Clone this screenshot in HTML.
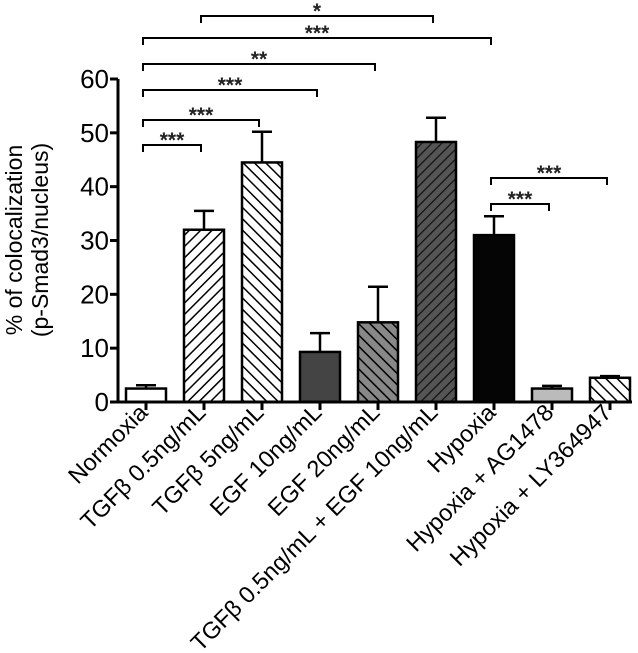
<!DOCTYPE html>
<html><head><meta charset="utf-8"><style>
html,body{margin:0;padding:0;background:#fff;}
svg{display:block;font-family:"Liberation Sans",sans-serif;}
</style></head><body>
<svg id="chart" width="638" height="653">
<defs>
<pattern id="hatchR" patternUnits="userSpaceOnUse" width="8" height="8" patternTransform="rotate(45)"><rect width="8" height="8" fill="#fff"/><line x1="0" y1="0" x2="0" y2="8" stroke="#000" stroke-width="3"/></pattern>
<pattern id="hatchL" patternUnits="userSpaceOnUse" width="8" height="8" patternTransform="rotate(-45)"><rect width="8" height="8" fill="#fff"/><line x1="0" y1="0" x2="0" y2="8" stroke="#000" stroke-width="3"/></pattern>
<pattern id="hatchGrey" patternUnits="userSpaceOnUse" width="8" height="8" patternTransform="rotate(-45)"><rect width="8" height="8" fill="#888"/><line x1="0" y1="0" x2="0" y2="8" stroke="#000" stroke-width="3"/></pattern>
<pattern id="hatchDark" patternUnits="userSpaceOnUse" width="7" height="7" patternTransform="rotate(45)"><rect width="7" height="7" fill="#555"/><line x1="0" y1="0" x2="0" y2="7" stroke="#111" stroke-width="2.5"/></pattern>
</defs>
<g id="plot"></g>
<text transform="translate(22,240) rotate(-90)" text-anchor="middle" font-size="23">% of colocalization</text>
<text transform="translate(48,240) rotate(-90)" text-anchor="middle" font-size="23">(p-Smad3/nucleus)</text>
</svg>
<script>
const categories = ["Normoxia","TGFβ 0.5ng/mL","TGFβ 5ng/mL","EGF 10ng/mL","EGF 20ng/mL","TGFβ 0.5ng/mL + EGF 10ng/mL","Hypoxia","Hypoxia + AG1478","Hypoxia + LY364947"];
const means = [2.5, 32, 44.5, 9.3, 14.8, 48.3, 31, 2.5, 4.5];
const errors = [0.6, 3.5, 5.7, 3.5, 6.6, 4.5, 3.5, 0.5, 0.3];
const yTicks = [0, 10, 20, 30, 40, 50, 60];
const fills = ["#fff","url(#hatchR)","url(#hatchL)","#444","url(#hatchGrey)","url(#hatchDark)","#050505","#bbb","url(#hatchL)"];
// brackets: [fromIndex, toIndex, label, yLevel]
const brackets = [[1,5,"*",16],[0,6,"***",38],[0,4,"**",64],[0,3,"***",90],[0,2,"***",120],[0,1,"***",145],[6,8,"***",178],[6,7,"***",204]];

const NS="http://www.w3.org/2000/svg";
const g=document.getElementById('plot');
const y0=402, y60=79, axX=118;
const yScale=v=>y0-(v/60)*(y0-y60);
const xScale=i=>146+i*58;
const bw=40;
function mk(tag,attrs){const e=document.createElementNS(NS,tag);for(const k in attrs)e.setAttribute(k,attrs[k]);g.appendChild(e);return e;}

let ya=mk('line',{x1:axX,y1:y60,x2:axX,y2:y0+1.5,stroke:'#000','stroke-width':3});


yTicks.forEach(t=>{
  const y=yScale(t);
  const tk=mk('line',{x1:axX-8,y1:y,x2:axX,y2:y,stroke:'#000','stroke-width':3});
  
  
  const tl=mk('text',{x:axX-9,y:y+9,'text-anchor':'end','font-size':26});
  tl.textContent=t;
  
  
});
means.forEach((m,i)=>{
  const cx=xScale(i), top=yScale(m), et=yScale(m+errors[i]);
  const el=mk('line',{x1:cx,y1:top,x2:cx,y2:et,stroke:'#000','stroke-width':2.5});
  
  
  const ec=mk('line',{x1:cx-10,y1:et,x2:cx+10,y2:et,stroke:'#000','stroke-width':2.5});
  
  
  const r=mk('rect',{x:cx-bw/2,y:top,width:bw,height:y0-top,fill:fills[i],stroke:'#000','stroke-width':2.5});
  
  
  const tk=mk('line',{x1:cx,y1:y0,x2:cx,y2:y0+8,stroke:'#000','stroke-width':3});
  
  
  const lb=mk('text',{transform:`translate(${cx+3},${y0+12}) rotate(-45)`,'text-anchor':'end','font-size':23.5});
  lb.textContent=categories[i];
  
  
});
let xa=mk('line',{x1:axX-1.5,y1:y0,x2:632,y2:y0,stroke:'#000','stroke-width':3});


brackets.forEach(b=>{
  const x1=xScale(b[0])-3, x2=xScale(b[1])-3, y=b[3];
  const p=mk('path',{d:`M${x1},${y+7}V${y}H${x2}V${y+7}`,fill:'none',stroke:'#000','stroke-width':2});
  
  
  const t=mk('text',{x:(x1+x2)/2,y:y+2,'text-anchor':'middle','font-size':21,'font-weight':'bold','fill':'#222'});
  t.textContent=b[2];
  
  
});
</script>
</body></html>
